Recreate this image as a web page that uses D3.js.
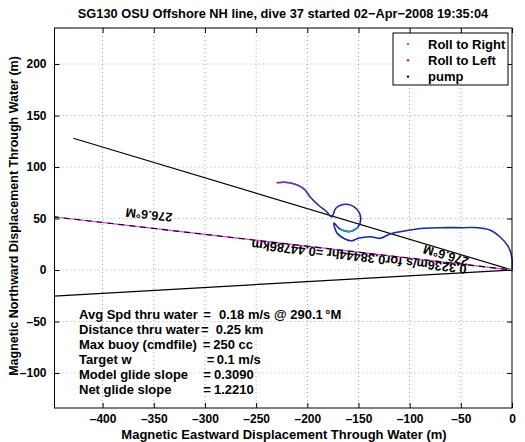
<!DOCTYPE html>
<html><head><meta charset="utf-8">
<script src="https://cdn.jsdelivr.net/npm/d3@7"></script>
<style>
body{margin:0;background:#fff}
text{font-family:"Liberation Sans",Arial,Helvetica,sans-serif;font-weight:bold;fill:#000}
</style>
</head><body><svg id="c" width="525" height="442"></svg>
<script>
// ---- data ----
const titleText = "SG130 OSU Offshore NH line, dive 37 started 02\u2212Apr\u22122008 19:35:04";
const xLabel = "Magnetic Eastward Displacement Through Water (m)";
const yLabel = "Magnetic Northward Displacement Through Water (m)";
const xDomain = [-447, 0];
const yDomain = [-134, 235];
const xTicks = [-400, -350, -300, -250, -200, -150, -100, -50, 0];
const yTicks = [-100, -50, 0, 50, 100, 150, 200];

// dive track through water (m east, m north)
const trackX = [-229.9, -217.4, -203.9, -197.4, -189.3, -181.1, -176.2, -171.9, -162.2, -152.4, -147.8, -150.5, -158.3, -168.1, -173.9, -171.0, -163.2, -156.3, -150.2, -138.7, -128.9, -119.2, -109.4, -99.7, -86.7, -70.4, -47.6, -33.0, -21.5, -11.8, -3.6, 0, 0];
const trackY = [84.8, 84.8, 79.3, 71.2, 63.1, 56.6, 51.5, 60.2, 63.8, 59.7, 50.5, 41.8, 37.4, 39.8, 45.6, 35.9, 30.1, 28.4, 30.8, 32.3, 30.8, 35.0, 37.2, 38.8, 40.5, 41.1, 41.1, 41.1, 38.8, 32.3, 22.6, 11.3, 0];
// index ranges of highlighted segments
const climbSeg = [11, 13];
const rollSeg = [0, 3];

// heading / current lines from origin
const upperLine = [[-428.6, 127.9], [0, 0]];
const lowerLine = [[-470, -26.6], [0, 0]];
const midLine = [[-470, 54.2], [0, 0]];

const headingLabel = "276.6\u00b0M";
const currentLabel = "0.3236m/s for0.38444hr =0.44786km";
const labelA = [-354.7, 53.4];
const labelB = [-64.5, 14.0];
const labelC = [-149.5, 12.6];

const legendNames = ["Roll to Right", "Roll to Left", "pump"];
const legendColors = ["#22cc22", "#dd2222", "#000000"];

const statNames = ["Avg Spd thru water", "Distance thru water", "Max buoy (cmdfile)", "Target w", "Model glide slope", "Net glide slope"];
const statValues = ["0.18 m/s @ 290.1\u2009\u00b0M", "0.25 km", "250 cc", "0.1 m/s", "0.3090", "1.2210"];
const statEqX = [203.3, 201, 202.7, 206.7, 203.3, 203.3];
const statValX = [219, 215.7, 213.3, 216.7, 214, 214];

// ---- layout ----
const L = 54.5, R = 512, T = 28, B = 408;
const svg = d3.select("#c");
const x = d3.scaleLinear().domain(xDomain).range([L, R]);
const y = d3.scaleLinear().domain(yDomain).range([B, T]);

svg.append("defs").append("clipPath").attr("id", "clip")
  .append("rect").attr("x", L).attr("y", T).attr("width", R - L + 1.5).attr("height", B - T);

// grid
const grid = svg.append("g").attr("stroke", "#9a9a9a").attr("stroke-width", 0.8).attr("stroke-dasharray", "1,3");
grid.selectAll(".gx").data(xTicks.filter(d => d > xDomain[0] && d < xDomain[1])).enter().append("line")
  .attr("x1", d => x(d)).attr("x2", d => x(d)).attr("y1", T).attr("y2", B);
grid.selectAll(".gy").data(yTicks).enter().append("line")
  .attr("y1", d => y(d)).attr("y2", d => y(d)).attr("x1", L).attr("x2", R);

const plot = svg.append("g").attr("clip-path", "url(#clip)");
const ln = d3.line().x(d => x(d[0])).y(d => y(d[1]));

plot.append("path").attr("d", ln(upperLine)).attr("stroke", "#000").attr("stroke-width", 1.2).attr("fill", "none");
plot.append("path").attr("d", ln(lowerLine)).attr("stroke", "#000").attr("stroke-width", 1.2).attr("fill", "none");
plot.append("path").attr("d", ln(midLine)).attr("stroke", "#dd55dd").attr("stroke-width", 1.4).attr("fill", "none");
plot.append("path").attr("d", ln(midLine)).attr("stroke", "#000").attr("stroke-width", 1.1).attr("stroke-dasharray", "6,5").attr("fill", "none");

const pts = trackX.map((v, i) => [v, trackY[i]]);
const curve = d3.line().x(d => x(d[0])).y(d => y(d[1])).curve(d3.curveCatmullRom.alpha(0.5));
plot.append("path").attr("d", curve(pts)).attr("stroke", "#1c2a9c").attr("stroke-width", 1.6).attr("fill", "none");
plot.append("path").attr("d", curve(pts.slice(climbSeg[0], climbSeg[1] + 1))).attr("stroke", "#1f9fb0").attr("stroke-width", 1.6).attr("fill", "none");
plot.append("path").attr("d", curve(pts.slice(rollSeg[0], rollSeg[1] + 1))).attr("stroke", "#8a3aa8").attr("stroke-width", 1.4).attr("fill", "none").attr("opacity", 0.8);
plot.append("circle").attr("cx", x(0)).attr("cy", y(0)).attr("r", 1.5).attr("fill", "#dd44dd");

// rotated labels
function ang(seg) {
  const dx = x(seg[1][0]) - x(seg[0][0]), dy = y(seg[1][1]) - y(seg[0][1]);
  return Math.atan2(dy, dx) * 180 / Math.PI;
}
const aMid = ang(midLine) + 180, aUp = ang(upperLine) + 180;
function rlabel(p, a, t, fs) {
  svg.append("text").attr("transform", `translate(${x(p[0])},${y(p[1])}) rotate(${a})`)
    .attr("text-anchor", "middle").attr("dy", "0.35em").attr("font-size", fs).text(t);
}
rlabel(labelA, aMid, headingLabel, 12.5);
rlabel(labelB, aUp, headingLabel, 12.5);
rlabel(labelC, aMid, currentLabel, 12.8);

// axes
const fmt = d => d < 0 ? "\u2013" + Math.abs(d) : String(d);
const ax = svg.append("g").attr("transform", `translate(0,${B})`)
  .call(d3.axisBottom(x).tickValues(xTicks).tickSize(-5).tickPadding(6).tickFormat(fmt));
const axT = svg.append("g").attr("transform", `translate(0,${T})`)
  .call(d3.axisTop(x).tickValues(xTicks).tickSize(-5).tickFormat(""));
const ay = svg.append("g").attr("transform", `translate(${L},0)`)
  .call(d3.axisLeft(y).tickValues(yTicks).tickSize(-5).tickPadding(8).tickFormat(fmt));
const ayR = svg.append("g").attr("transform", `translate(${R},0)`)
  .call(d3.axisRight(y).tickValues(yTicks).tickSize(-5).tickFormat(""));
[ax, axT, ay, ayR].forEach(g => {
  g.select(".domain").remove();
  g.selectAll("line").attr("stroke", "#000");
  g.selectAll("text").attr("font-size", 12).attr("font-family", null).attr("fill", "#000");
});
svg.append("rect").attr("x", L).attr("y", T).attr("width", R - L).attr("height", B - T)
  .attr("fill", "none").attr("stroke", "#000").attr("stroke-width", 1);

// stats text
statNames.forEach((n, i) => {
  const yy = 318.5 + i * 15.1;
  const t = svg.append("text").attr("font-size", 13).attr("y", yy);
  t.append("tspan").attr("x", 79).text(n);
  t.append("tspan").attr("x", statEqX[i]).text("=");
  t.append("tspan").attr("x", statValX[i]).text(statValues[i]);
});

// legend
const lg = svg.append("g");
lg.append("rect").attr("x", 393).attr("y", 33).attr("width", 115).attr("height", 52)
  .attr("fill", "#fff").attr("stroke", "#000").attr("stroke-width", 1);
legendNames.forEach((n, i) => {
  const yy = 44 + i * 16.3;
  lg.append("circle").attr("cx", 408).attr("cy", yy).attr("r", 1.2).attr("fill", legendColors[i]);
  lg.append("text").attr("x", 428).attr("y", yy).attr("dy", "0.36em").attr("font-size", 13).text(n);
});

// titles
svg.append("text").attr("x", 283).attr("y", 18.3).attr("text-anchor", "middle").attr("font-size", 12.8).text(titleText);
svg.append("text").attr("x", 284).attr("y", 439).attr("text-anchor", "middle").attr("font-size", 13).text(xLabel);
svg.append("text").attr("transform", "translate(17.5,216) rotate(-90)").attr("text-anchor", "middle").attr("font-size", 12.5).text(yLabel);
</script>
</body></html>
